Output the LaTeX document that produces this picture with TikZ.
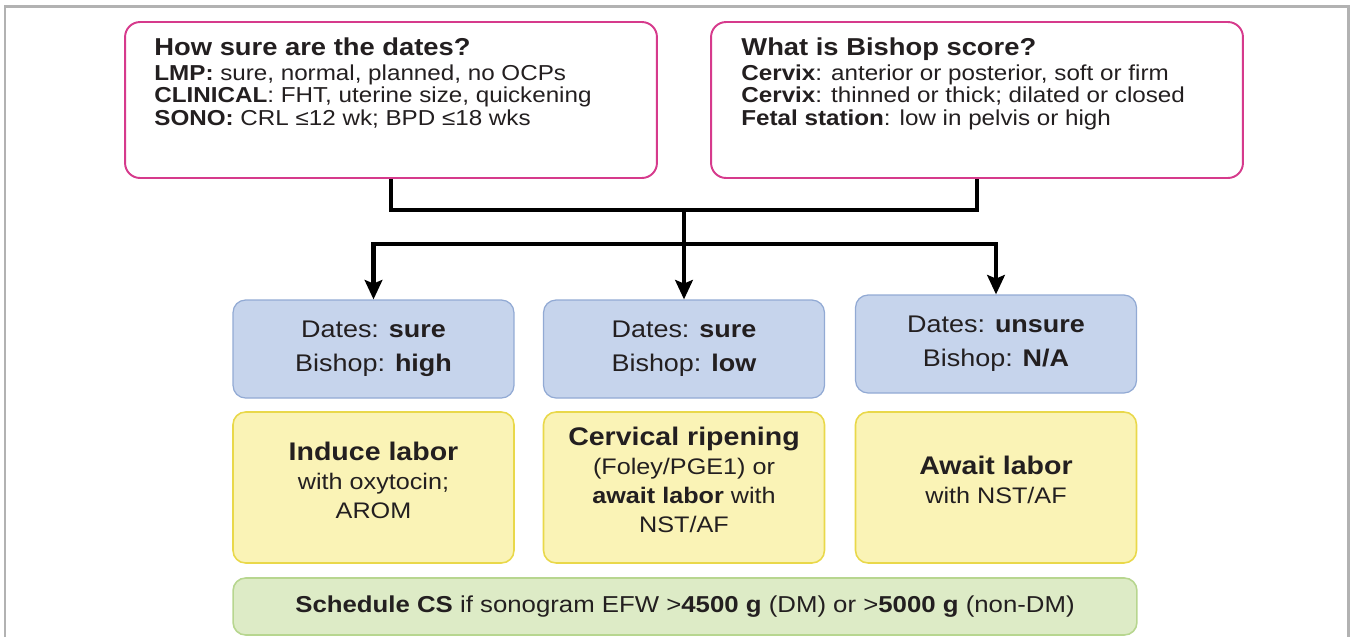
\documentclass[tikz,border=0pt]{standalone}
\usepackage{fontspec}
\setmainfont{Liberation Sans}[FakeStretch=1.12]
\usetikzlibrary{positioning,arrows.meta}
\definecolor{pinkline}{RGB}{214,58,140}
\definecolor{bluefill}{RGB}{198,212,236}
\definecolor{blueline}{RGB}{146,170,212}
\definecolor{yellowfill}{RGB}{250,243,182}
\definecolor{yellowline}{RGB}{233,216,74}
\definecolor{greenfill}{RGB}{221,235,198}
\definecolor{greenline}{RGB}{183,214,143}
\definecolor{framegrey}{RGB}{178,178,178}
\definecolor{txtgrey}{RGB}{35,31,32}
\newcommand{\leadline}[1]{{\fontsize{14.5}{17}\selectfont\bfseries #1}}
\newcommand{\boxtitle}[1]{{\fontsize{13.9}{15}\selectfont\bfseries #1}}

\begin{document}
\begin{tikzpicture}[
  x=0.02cm, y=-0.02cm,
  every node/.style = {text=txtgrey},
  pinkbox/.style = {draw=pinkline, line width=1.1pt, fill=white, rounded corners=0.3cm,
                    minimum width=10.64cm, minimum height=3.12cm},
  listtext/.style = {align=left, inner sep=0pt, font=\fontsize{12.3}{12.6}\selectfont},
  bluebox/.style = {draw=blueline, fill=bluefill, line width=0.7pt, rounded corners=0.25cm,
                    minimum width=5.62cm, minimum height=1.96cm, align=center,
                    font=\fontsize{13.7}{19.5}\selectfont},
  yellowbox/.style = {draw=yellowline, fill=yellowfill, line width=0.9pt, rounded corners=0.25cm,
                      minimum width=5.62cm, minimum height=3.02cm, align=center,
                      font=\fontsize{12.8}{16.5}\selectfont},
  greenbox/.style = {draw=greenline, fill=greenfill, line width=0.9pt, rounded corners=0.25cm,
                     minimum width=18.08cm, minimum height=1.14cm, align=center,
                     font=\fontsize{13.1}{14}\selectfont},
  connector/.style = {line width=2.3pt},
  arrowline/.style = {connector, -{Stealth[length=11pt,width=10pt,inset=2pt]}}
]
  \useasboundingbox (0,0) rectangle (1353,637);
  \draw[framegrey, line width=1.7pt] (5,637) -- (5,6) -- (1348,6) -- (1348,637);

  % questions
  \node (dates) [pinkbox] at (391,100) {};
  \node (bishop) [pinkbox] at (977,100) {};
  \node (datestxt) [listtext, below right=0.32cm and 0.6cm of dates.north west] {
    \boxtitle{How sure are the dates?}\\[2pt]
    \textbf{LMP:} sure, normal, planned, no OCPs\\
    \textbf{CLINICAL}: FHT, uterine size, quickening\\
    \textbf{SONO:} CRL ≤12 wk; BPD ≤18 wks};
  \node (bishoptxt) [listtext, below right=0.32cm and 0.62cm of bishop.north west] {
    \boxtitle{What is Bishop score?}\\[2pt]
    \textbf{Cervix}: anterior or posterior, soft or firm\\
    \textbf{Cervix}: thinned or thick; dilated or closed\\
    \textbf{Fetal station}: low in pelvis or high};

  % cases
  \node (surehigh) [bluebox] at (373.5,349) {Dates: \textbf{sure}\\Bishop: \textbf{high}};
  \node (surelow) [bluebox] at (684,349) {Dates: \textbf{sure}\\Bishop: \textbf{low}};
  \node (unsure) [bluebox] at (996,344) {Dates: \textbf{unsure}\\Bishop: \textbf{N/A}};

  % management (last empty line lifts the text a little)
  \node (induce) [yellowbox] at (373.5,487.5) {\leadline{Induce labor}\\with oxytocin;\\AROM\\[-8pt]\mbox{}};
  \node (ripen) [yellowbox] at (684,487.5) {\leadline{Cervical ripening}\\(Foley/PGE1) or\\
    \textbf{await labor} with\\NST/AF\\[-8pt]\mbox{}};
  \node (await) [yellowbox] at (996,487.5) {\leadline{Await labor}\\with NST/AF\\[-8pt]\mbox{}};
  \node (schedule) [greenbox] at (685,606.5) {\textbf{Schedule CS} if sonogram EFW >\textbf{4500 g}
    (DM) or >\textbf{5000 g} (non-DM)};

  \coordinate (join) at (684,210);
  \coordinate (split) at (684,244);
  \draw[connector] (dates.south) |- (join) -| (bishop.south);
  \draw[arrowline] (join) -- (surelow.north);
  \draw[arrowline] (split) -| (surehigh.north);
  \draw[arrowline] (split) -| (unsure.north);
\end{tikzpicture}
\end{document}
